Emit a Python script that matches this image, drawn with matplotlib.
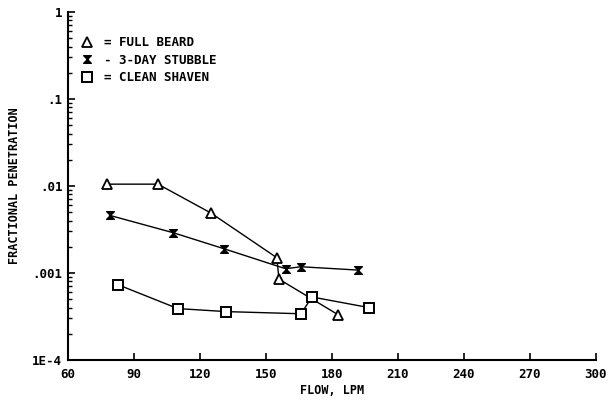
import matplotlib
matplotlib.use("Agg")
import matplotlib.pyplot as plt
from matplotlib.path import Path
from matplotlib.lines import Line2D
from matplotlib.ticker import FixedLocator, FixedFormatter, LogLocator, NullFormatter

# Data
beard_x = [78, 101, 125, 155, 156, 183]
beard_y = [0.0105, 0.0105, 0.0049, 0.00150, 0.00085, 0.00033]
stubble_x = [79, 108, 131, 159, 166, 192]
stubble_y = [0.0046, 0.0029, 0.0019, 0.00112, 0.00118, 0.00108]
clean_x = [83, 110, 132, 166, 171, 197]
clean_y = [0.00073, 0.00039, 0.00036, 0.00034, 0.00053, 0.00040]

x_ticks = [60, 90, 120, 150, 180, 210, 240, 270, 300]
x_labels = ["60", "90", "120", "150", "180", "210", "240", "270", "300"]
y_ticks = [1e-4, 1e-3, 1e-2, 1e-1, 1]
y_labels = ["1E-4", ".001", ".01", ".1", "1"]

plt.rcParams['font.family'] = ['DejaVu Sans Mono']
plt.rcParams['font.weight'] = 'bold'

hourglass = Path([(-1, 1), (1, 1), (-1, -1), (1, -1), (-1, 1)],
                 [Path.MOVETO, Path.LINETO, Path.LINETO, Path.LINETO, Path.CLOSEPOLY])

fig = plt.figure(figsize=(6.11, 4.0), dpi=100)
ax = fig.add_axes([0.111, 0.10, 0.864, 0.87])

ax.plot(beard_x, beard_y, color='black', lw=1.0, marker='^', ms=6.5,
        mfc='white', mec='black', mew=1.3)
ax.plot(stubble_x, stubble_y, color='black', lw=1.0, marker=hourglass, ms=5.5,
        mfc='black', mec='black', mew=1.0)
ax.plot(clean_x, clean_y, color='black', lw=1.0, marker='s', ms=7.5,
        mfc='white', mec='black', mew=1.4)

ax.set_yscale('log')
ax.set_xlim(60, 300)
ax.set_ylim(1e-4, 1)

ax.xaxis.set_major_locator(FixedLocator(x_ticks))
ax.xaxis.set_major_formatter(FixedFormatter(x_labels))
ax.yaxis.set_major_locator(FixedLocator(y_ticks))
ax.yaxis.set_major_formatter(FixedFormatter(y_labels))
ax.yaxis.set_minor_locator(LogLocator(base=10, subs=range(2, 10)))
ax.yaxis.set_minor_formatter(NullFormatter())

ax.tick_params(axis='both', which='major', direction='in', length=5, width=1.2,
               labelsize=9)
ax.tick_params(axis='x', which='major', pad=6)
ax.tick_params(axis='y', which='major', pad=4)
ax.tick_params(axis='y', which='minor', direction='in', length=3, width=1)
ax.tick_params(axis='x', which='minor', bottom=False)

for s in ['top', 'right']:
    ax.spines[s].set_visible(False)
for s in ['left', 'bottom']:
    ax.spines[s].set_linewidth(1.5)

ax.set_xlabel("FLOW, LPM", fontsize=8.5, fontweight='bold', labelpad=2)
ax.set_ylabel("FRACTIONAL PENETRATION", fontsize=8.5, fontweight='bold', labelpad=8)

handles = [
    Line2D([], [], ls='none', marker='^', ms=6.5, mfc='white', mec='black', mew=1.3),
    Line2D([], [], ls='none', marker=hourglass, ms=5.5, mfc='black', mec='black'),
    Line2D([], [], ls='none', marker='s', ms=7.5, mfc='white', mec='black', mew=1.4),
]
labels = ["= FULL BEARD", "- 3-DAY STUBBLE", "= CLEAN SHAVEN"]
ax.legend(handles, labels, loc='upper left', bbox_to_anchor=(0.015, 0.945),
          frameon=False, fontsize=9, handlelength=1.0, handletextpad=0.9,
          labelspacing=0.35, borderaxespad=0)

fig.savefig("out.png", dpi=100)
